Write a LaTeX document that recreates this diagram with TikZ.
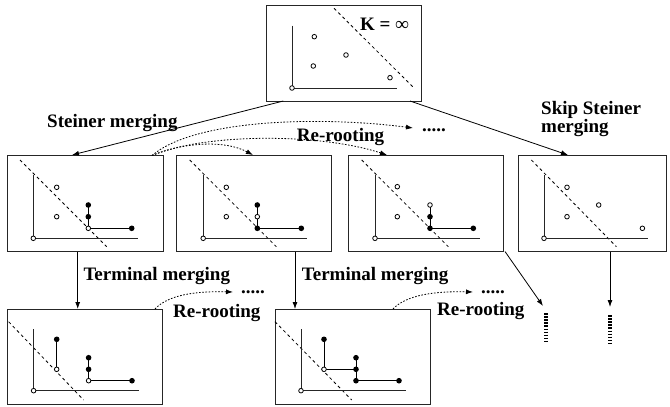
\documentclass[tikz,border=0pt]{standalone}
\usepackage{fontspec}
\setmainfont{Liberation Serif}
\usetikzlibrary{arrows.meta}
\tikzset{
  box/.style={draw=black!85, line width=0.9pt, minimum width=155pt, minimum height=96pt, inner sep=0pt, outer sep=0pt, anchor=north west},
  lbl/.style={font=\fontsize{19}{21}\selectfont\bfseries, inner sep=0pt, anchor=base west},
  arr/.style={-{Latex[length=7pt,width=5pt]}, line width=0.8pt},
  darr/.style={-{Latex[length=7pt,width=5pt]}, line width=0.8pt, dash pattern=on 1.6pt off 1.6pt},
  cutline/.style={line width=0.8pt, dash pattern=on 3pt off 3pt},
  axisline/.style={line width=0.9pt, draw=black!85},
  edge/.style={line width=0.9pt},
  opn/.style={circle, draw, line width=0.8pt, fill=white, inner sep=0pt, minimum size=4.6pt},
  fil/.style={circle, fill=black, inner sep=0pt, minimum size=5.6pt},
  vdots/.style={line width=3.3pt, dash pattern=on 1.6pt off 1.5pt}
}
\begin{document}
\begin{tikzpicture}[x=1pt,y=-1pt]
\useasboundingbox (0,0) rectangle (670,407);
% boxes
\node[box] (T) at (266,5) {};
\node[box, minimum height=96.5pt, minimum width=156pt] (B1) at (7,155) {};
\node[box, minimum height=96.5pt] (B2) at (176.5,155) {};
\node[box, minimum height=96.5pt] (B3) at (348.5,155) {};
\node[box, minimum height=96.5pt, minimum width=148.5pt] (B4) at (518,155) {};
\node[box, minimum height=95pt] (B5) at (7,309) {};
\node[box, minimum height=95pt] (B6) at (275,309) {};

% top box content
\begin{scope}[shift={(266,5)}]
  \draw[cutline] (68,3.3) -- (148,83);
  \draw[axisline] (26,20.7) -- (26,83) -- (130.7,83);
  \node[opn] (t0) at (26,83) {};
  \node[opn] (t1) at (48.3,31.7) {};
  \node[opn] (t2) at (47.3,61) {};
  \node[opn] (t3) at (80,50) {};
  \node[opn] (t4) at (124,72.7) {};
\end{scope}
\node[lbl] (K) at (360,30) {K = ∞};

% B1 content
\begin{scope}[shift={(7,155)}]
  \draw[cutline] (13,5) -- (99.7,91.7);
  \draw[axisline] (26.3,20) -- (26.3,83.3) -- (131.3,83.3);
  \draw[edge] (81.3,50) -- (81.3,73.3) -- (124.7,73.3);
  \node[opn] (a0) at (26.3,83.3) {};
  \node[opn] (a1) at (49.7,32.3) {};
  \node[opn] (a2) at (49.7,61.7) {};
  \node[fil] (a3) at (81.3,50) {};
  \node[fil] (a4) at (81.3,61.7) {};
  \node[opn] (a5) at (81.3,73.3) {};
  \node[fil] (a6) at (124.7,73.3) {};
\end{scope}

% B2 content
\begin{scope}[shift={(176.5,155)}]
  \draw[cutline] (13.2,5) -- (99.8,91.7);
  \draw[axisline] (26.7,20) -- (26.7,83.3) -- (130.8,83.3);
  \draw[edge] (80.8,50) -- (80.8,73.3) -- (124.8,73.3);
  \node[opn] (b0) at (26.7,83.3) {};
  \node[opn] (b1) at (49.8,32.3) {};
  \node[opn] (b2) at (49.8,61.7) {};
  \node[fil] (b3) at (80.8,50) {};
  \node[opn] (b4) at (80.8,61.7) {};
  \node[fil] (b5) at (80.8,73.3) {};
  \node[fil] (b6) at (124.8,73.3) {};
\end{scope}

% B3 content
\begin{scope}[shift={(348.5,155)}]
  \draw[cutline] (13.2,5) -- (99.8,91.7);
  \draw[axisline] (26.5,20) -- (26.5,83.3) -- (131,83.3);
  \draw[edge] (81.5,50) -- (81.5,73.3) -- (124.8,73.3);
  \node[opn] (c0) at (26.5,83.3) {};
  \node[opn] (c1) at (48.8,31.7) {};
  \node[opn] (c2) at (48.8,61.7) {};
  \node[opn] (c3) at (81.5,50) {};
  \node[fil] (c4) at (81.5,61.7) {};
  \node[fil] (c5) at (81.5,73.3) {};
  \node[fil] (c6) at (124.8,73.3) {};
\end{scope}

% B4 content
\begin{scope}[shift={(518,155)}]
  \draw[cutline] (13.4,5) -- (98.4,91.7);
  \draw[axisline] (26,20) -- (26,83.3) -- (130,83.3);
  \node[opn] (d0) at (26,83.3) {};
  \node[opn] (d1) at (49,32.3) {};
  \node[opn] (d2) at (49,61.7) {};
  \node[opn] (d3) at (80.7,50) {};
  \node[opn] (d4) at (124.4,73.3) {};
\end{scope}

% B5 content
\begin{scope}[shift={(7,309)}]
  \draw[cutline] (1.6,12.7) -- (76.6,91);
  \draw[axisline] (26.6,20.3) -- (26.6,81.7) -- (131.6,81.7);
  \draw[edge] (49.7,30.3) -- (49.7,60.3);
  \draw[edge] (81.6,48.7) -- (81.6,71.7) -- (125,71.7);
  \node[opn] (e0) at (26.6,81.7) {};
  \node[fil] (e1) at (49.7,30.3) {};
  \node[opn] (e2) at (49.7,60.3) {};
  \node[fil] (e3) at (81.6,48.7) {};
  \node[fil] (e4) at (81.6,60.3) {};
  \node[opn] (e5) at (81.6,71.7) {};
  \node[fil] (e6) at (125,71.7) {};
\end{scope}

% B6 content
\begin{scope}[shift={(275,309)}]
  \draw[cutline] (0,12.7) -- (76.7,91);
  \draw[axisline] (26,20.3) -- (26,81.7) -- (131,81.7);
  \draw[edge] (49,30.3) -- (49,60.3) -- (81,60.3);
  \draw[edge] (81,48.7) -- (81,71.7) -- (124,71.7);
  \node[opn] (f0) at (26,81.7) {};
  \node[fil] (f1) at (49,30.3) {};
  \node[opn] (f2) at (49,60.3) {};
  \node[fil] (f3) at (81,48.7) {};
  \node[fil] (f4) at (81,60.3) {};
  \node[fil] (f5) at (81,71.7) {};
  \node[fil] (f6) at (124,71.7) {};
\end{scope}

% connector end points
\coordinate (sA) at (283.3,101);
\coordinate (sB) at (72,155);
\coordinate (kA) at (410,101);
\coordinate (kB) at (568,155);
\coordinate (r0) at (152,155.5);
\coordinate (r1) at (253,155);
\coordinate (r2) at (387,155);
\coordinate (r3) at (413,128);
\coordinate (u1) at (77.7,251.5);
\coordinate (u2) at (77.7,309);
\coordinate (v1) at (295,251.5);
\coordinate (v2) at (295,309);
\coordinate (w1) at (505,251.5);
\coordinate (w2) at (543,306);
\coordinate (z1) at (610,251.5);
\coordinate (z2) at (610,307);
\coordinate (p1) at (155,309);
\coordinate (p2) at (233,292);
\coordinate (q1) at (393,309);
\coordinate (q2) at (473,292);
\coordinate (m1) at (546,313);
\coordinate (m2) at (546,342);
\coordinate (n1) at (610,315);
\coordinate (n2) at (610,344);

% solid arrows
\draw[arr] (sA) -- (sB);
\draw[arr] (kA) -- (kB);
\draw[arr] (u1) -- (u2);
\draw[arr] (v1) -- (v2);
\draw[arr] (w1) -- (w2);
\draw[arr] (z1) -- (z2);

% dotted re-rooting arcs
\draw[darr] (r0) .. controls (185,142) and (225,140) .. (r1);
\draw[darr] (r0) .. controls (205,133) and (320,133) .. (r2);
\draw[darr] (r0) .. controls (195,119) and (320,116) .. (r3);
\draw[darr] (p1) .. controls (168,295) and (195,291) .. (p2);
\draw[darr] (q1) .. controls (406,295) and (435,291) .. (q2);

% vertical dotted continuations
\draw[vdots] (m1) -- (m2);
\draw[vdots] (n1) -- (n2);

% labels
\node[lbl] (lSteiner) at (47,127.5) {Steiner merging};
\node[lbl] (lRe1) at (296.7,141.5) {Re-rooting};
\node[lbl] (lDots1) at (422,131.5) {.....};
\node[lbl] (lSkip1) at (541,114.3) {Skip Steiner};
\node[lbl] (lSkip2) at (541,132.2) {merging};
\node[lbl] (lTerm1) at (83.3,280) {Terminal merging};
\node[lbl] (lTerm2) at (301.7,280) {Terminal merging};
\node[lbl] (lDots2) at (241,293.5) {.....};
\node[lbl] (lDots3) at (481,293.5) {.....};
\node[lbl] (lRe2) at (173,317.5) {Re-rooting};
\node[lbl] (lRe3) at (437,315.5) {Re-rooting};
\end{tikzpicture}
\end{document}
